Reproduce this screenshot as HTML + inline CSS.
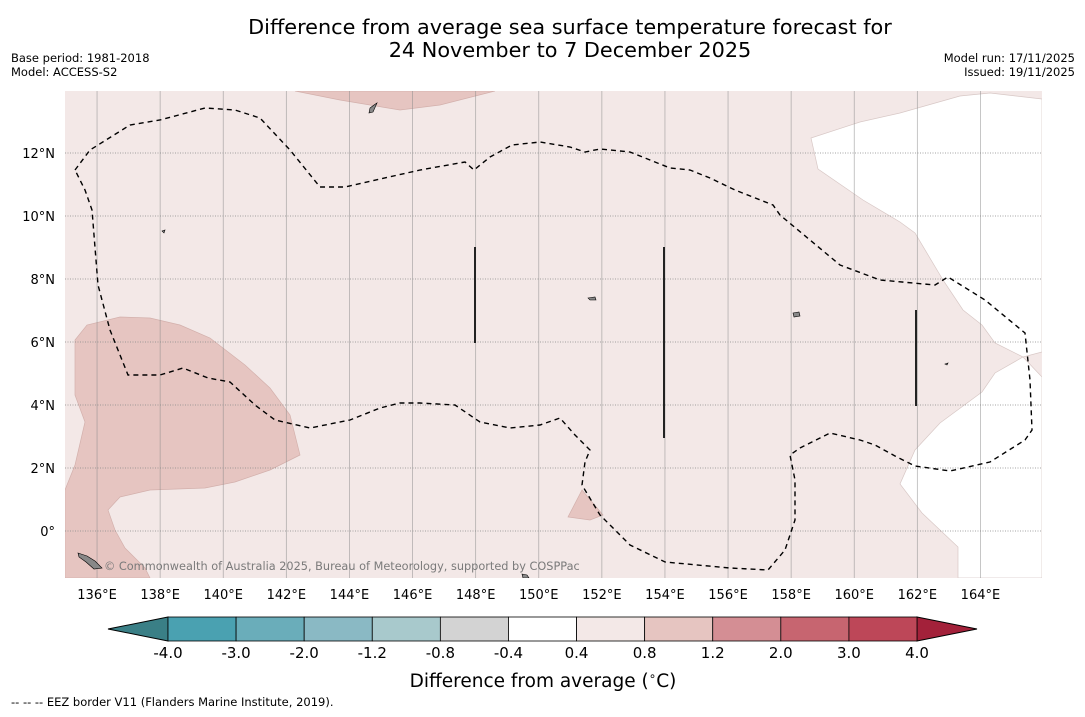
<!DOCTYPE html>
<html><head><meta charset="utf-8"><style>
body{margin:0;background:#fff;font-family:"DejaVu Sans","Liberation Sans",sans-serif;}
svg text{font-family:"DejaVu Sans","Liberation Sans",sans-serif;}
</style></head><body>
<svg id="chart" width="1085" height="713" viewBox="0 0 1085 713">
<text x="570" y="34" font-size="20.8" text-anchor="middle">Difference from average sea surface temperature forecast for</text>
<text x="570" y="57" font-size="20.8" text-anchor="middle">24 November to 7 December 2025</text>
<text x="11" y="62" font-size="11.5">Base period: 1981-2018</text>
<text x="11" y="76" font-size="11.5">Model: ACCESS-S2</text>
<text x="1075" y="62" font-size="11.5" text-anchor="end">Model run: 17/11/2025</text>
<text x="1075" y="76" font-size="11.5" text-anchor="end">Issued: 19/11/2025</text>
<defs><clipPath id="mapclip"><rect x="65" y="91" width="977" height="487"/></clipPath></defs>
<g clip-path="url(#mapclip)">
<rect x="65" y="91" width="977" height="487" fill="#f3e8e7"/>
<polygon fill="#fff" stroke="#d8c8c6" stroke-width="0.7" points="811,138 860,122 900,113 960,96 990,93 1042,99 1042,352 1023,357 995,343 982,325 963,310 943,280 915,233 900,222 863,200 818,169"/>
<polygon fill="#fff" stroke="#d8c8c6" stroke-width="0.7" points="1023,357 1042,377 1042,578 958,578 958,547 922,513 900,484 915,450 940,423 982,392 995,373"/>
<polygon fill="#e6c5c1" stroke="#d3b0ac" stroke-width="0.7" points="65,490 75,465 85,422 75,395 75,340 87,325 120,317 150,318 180,325 210,338 245,365 270,388 290,415 300,455 270,470 235,482 205,488 150,490 120,497 108,510 115,530 125,548 145,568 150,578 65,578"/>
<polygon fill="#e6c5c1" stroke="#d3b0ac" stroke-width="0.7" points="295,91 340,100 400,110 440,105 495,91"/>
<polygon fill="#e6c5c1" stroke="#d3b0ac" stroke-width="0.7" points="582,490 603,515 590,520 568,517"/>
<g id="grid"></g>
<polyline fill="none" stroke="#000" stroke-width="1.4" stroke-dasharray="5,4" points="75,170 90,150 130,125 160,120 205,108 235,110 260,118 290,150 320,187 345,187 420,170 465,162 474,170 490,157 512,145 540,142 570,147 585,152 600,149 630,152 650,160 670,168 690,170 710,178 735,190 773,205 780,215 810,240 840,265 880,280 935,285 948,277 985,300 1025,333 1030,380 1032,430 1025,440 990,462 950,471 915,466 895,456 875,445 860,440 830,433 800,448 790,455 795,480 795,520 785,550 768,570 730,568 665,562 630,545 600,515 582,485 585,462 590,450 575,435 560,418 540,425 510,428 480,422 455,405 420,403 400,403 380,408 350,420 310,428 275,420 255,405 230,382 208,378 183,368 160,375 128,375 110,330 98,285 92,210 85,190 75,170"/>
<g stroke="#222" stroke-width="2">
<line x1="475" y1="247" x2="475" y2="343"/><line x1="664" y1="247" x2="664" y2="438"/><line x1="916" y1="310" x2="916" y2="406"/></g>
<g fill="#888" stroke="#000" stroke-width="0.6">
<polygon points="78,553 87,556 95,561 102,568 94,569 86,562 79,557"/>
<polygon points="370,108 374,105 377,103 373,112 369,113"/>
<polygon points="793,313 799,312 800,316 794,317"/>
<polygon points="588,298 595,297 596,300 590,300"/>
<polygon points="522,574 527,575 529,578 523,578"/>
<polygon points="945,364 948,363 947,365"/>
<polygon points="162,231 165,230 164,233"/>
</g>
<text x="104" y="570" font-size="11.3" fill="#7a7a7a">© Commonwealth of Australia 2025, Bureau of Meteorology, supported by COSPPac</text>
</g>
<g id="xticks"></g>
<g id="yticks"></g>
<g id="cbar"></g>
<text x="543" y="687" font-size="18.5" text-anchor="middle">Difference from average (<tspan font-size="12" dy="-7">∘</tspan><tspan dy="7">C)</tspan></text>
<text x="11" y="706" font-size="11.5">--  --  -- EEZ border V11 (Flanders Marine Institute, 2019).</text>
</svg>
<script>
const lonTicks=[136,138,140,142,144,146,148,150,152,154,156,158,160,162,164];
const latTicks=[0,2,4,6,8,10,12];
const cbarLevels=["-4.0","-3.0","-2.0","-1.2","-0.8","-0.4","0.4","0.8","1.2","2.0","3.0","4.0"];
const cbarColors=["#4aa1b1","#6aadba","#8ab9c4","#a8c9cc","#d3d3d3","#ffffff","#f3e8e7","#e6c5c1","#d48e94","#c76570","#bd4758"];
const NS="http://www.w3.org/2000/svg";
const xs=lon=>65.5+(lon-135)*31.55;
const ys=lat=>531-lat*31.5;
function mk(t,a,p){const e=document.createElementNS(NS,t);for(const k in a)e.setAttribute(k,a[k]);p.appendChild(e);return e;}
const grid=document.getElementById('grid'),xt=document.getElementById('xticks'),yt=document.getElementById('yticks');
lonTicks.forEach(l=>{const x=xs(l);
 const g=mk('line',{x1:x,y1:91,x2:x,y2:578,stroke:'#888','stroke-width':0.8,'stroke-opacity':0.6},grid);
 
 
 const t=mk('text',{x:x,y:599,'font-size':13,'text-anchor':'middle'},xt);t.textContent=l+'°E';
 
 });
latTicks.forEach(l=>{const y=ys(l);
 const g=mk('line',{x1:65,y1:y,x2:1042,y2:y,stroke:'#888','stroke-width':0.8,'stroke-dasharray':'1,1.5'},grid);
 
 
 const t=mk('text',{x:55,y:y+5,'font-size':13,'text-anchor':'end'},yt);t.textContent=l===0?'0°':l+'°N';
 
 });
const cb=document.getElementById('cbar');const x0=168,x1=917,y0=617,h=24,w=(x1-x0)/cbarColors.length;
const le=mk('polygon',{points:`${x0},${y0} ${x0},${y0+h} 108,${y0+h/2}`,fill:'#3a7f86',stroke:'#000','stroke-width':1},cb);


const re=mk('polygon',{points:`${x1},${y0} ${x1},${y0+h} 977,${y0+h/2}`,fill:'#a3213a',stroke:'#000','stroke-width':1},cb);


cbarColors.forEach((c,i)=>{const r=mk('rect',{x:x0+i*w,y:y0,width:w,height:h,fill:c,stroke:'#000','stroke-width':0.8},cb);
 
 });
cbarLevels.forEach((s,i)=>{const t=mk('text',{x:x0+i*w,y:658,'font-size':15,'text-anchor':'middle'},cb);t.textContent=s;
 
 });
</script>
</body></html>
